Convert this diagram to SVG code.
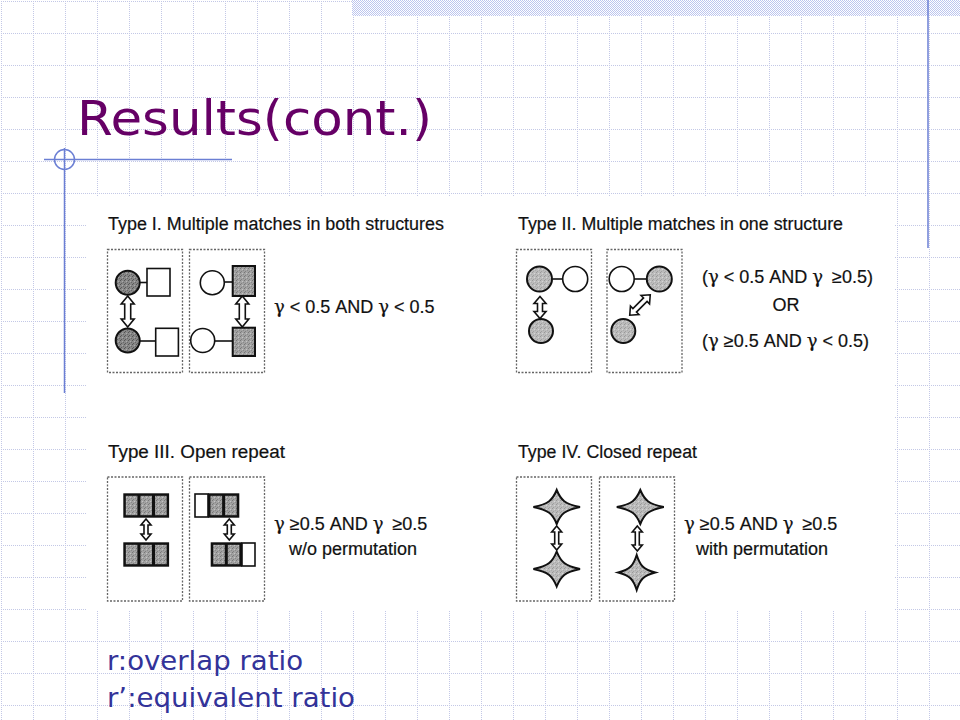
<svg xmlns="http://www.w3.org/2000/svg" width="960" height="720" viewBox="0 0 960 720">
<defs>
<pattern id="grid" width="32" height="32" patternUnits="userSpaceOnUse" x="1" y="1">
<path d="M0.5,0V32M0,0.5H32" stroke="#c3c8e6" stroke-width="1" stroke-dasharray="1 1" fill="none"/>
</pattern>
<pattern id="band" width="2" height="2" patternUnits="userSpaceOnUse">
<rect width="2" height="2" fill="#ffffff"/>
<rect width="1" height="1" fill="#bcc5ee"/>
<rect x="1" y="1" width="1" height="1" fill="#bcc5ee"/>
</pattern>
<pattern id="stipDark" width="4" height="4" patternUnits="userSpaceOnUse">
<rect width="4" height="4" fill="#888"/>
<rect x="0" y="0" width="1" height="1" fill="#555"/>
<rect x="2" y="1" width="1" height="1" fill="#aaa"/>
<rect x="1" y="3" width="1" height="1" fill="#5a5a5a"/>
<rect x="3" y="2" width="1" height="1" fill="#666"/>
</pattern>
<pattern id="stipMid" width="4" height="4" patternUnits="userSpaceOnUse">
<rect width="4" height="4" fill="#a2a2a2"/>
<rect x="0" y="0" width="1" height="1" fill="#777"/>
<rect x="2" y="1" width="1" height="1" fill="#c4c4c4"/>
<rect x="1" y="3" width="1" height="1" fill="#808080"/>
<rect x="3" y="2" width="1" height="1" fill="#888"/>
</pattern>
<pattern id="stipLight" width="4" height="4" patternUnits="userSpaceOnUse">
<rect width="4" height="4" fill="#bcbcbc"/>
<rect x="0" y="0" width="1" height="1" fill="#999"/>
<rect x="2" y="1" width="1" height="1" fill="#d6d6d6"/>
<rect x="1" y="3" width="1" height="1" fill="#a0a0a0"/>
<rect x="3" y="2" width="1" height="1" fill="#aaa"/>
</pattern>
<style>
.deco{stroke:#6b7fd4;stroke-width:1.5;fill:none}
.panel{fill:none;stroke:#666;stroke-width:1.3;stroke-dasharray:2 1.5}
.ft{font-family:"Liberation Sans",Arial,sans-serif;font-size:18px;fill:#111;stroke:#111;stroke-width:0.2}
.g{font-family:"DejaVu Serif","Liberation Serif",serif;font-size:18px}
.edge{stroke:#111;stroke-width:1.6;fill:none}
.arr{fill:#fff;stroke:#111;stroke-width:1.6;stroke-linejoin:miter}
.wshape{fill:#fff;stroke:#111;stroke-width:1.6}
.dark{fill:url(#stipDark);stroke:#111;stroke-width:2}
.mid{fill:url(#stipMid);stroke:#111;stroke-width:2}
.light{fill:url(#stipLight);stroke:#111;stroke-width:2}
.cell{fill:url(#stipMid)}
.star{fill:url(#stipLight);stroke:#111;stroke-width:2;stroke-linejoin:miter}
</style>
</defs>
<rect width="960" height="720" fill="#ffffff"/>
<rect width="960" height="720" fill="url(#grid)"/>
<rect x="352" y="0" width="608" height="16" fill="url(#band)"/>
<g id="decoration">
<line class="deco" x1="928" y1="0" x2="928" y2="248"/>
<line class="deco" x1="44" y1="159.5" x2="232" y2="159.5"/>
<line class="deco" x1="64.5" y1="148" x2="64.5" y2="393"/>
<circle class="deco" cx="64.5" cy="159.5" r="10"/>
</g>
<text id="title" x="77" y="135" font-family="'DejaVu Sans',Verdana,sans-serif" font-size="48" fill="#660066" textLength="355" lengthAdjust="spacingAndGlyphs">Results(cont.)</text>
<rect x="87" y="196" width="808" height="414" fill="#ffffff"/>

<g id="captions">
<text class="ft" x="108" y="230" textLength="336" lengthAdjust="spacingAndGlyphs">Type I. Multiple matches in both structures</text>
<text class="ft" x="518" y="230" textLength="325" lengthAdjust="spacingAndGlyphs">Type II. Multiple matches in one structure</text>
<text class="ft" x="108" y="458" textLength="177" lengthAdjust="spacingAndGlyphs">Type III. Open repeat</text>
<text class="ft" x="518" y="458" textLength="179" lengthAdjust="spacingAndGlyphs">Type IV. Closed repeat</text>
</g>

<g id="conditions">
<text class="ft" x="274" y="313"><tspan class="g">γ</tspan> &lt; 0.5 AND <tspan class="g">γ</tspan> &lt; 0.5</text>
<text class="ft" x="702" y="283">(<tspan class="g">γ</tspan> &lt; 0.5 AND <tspan class="g">γ</tspan> <tspan dx="4">≥0.5)</tspan></text>
<text class="ft" x="786" y="311" text-anchor="middle">OR</text>
<text class="ft" x="702" y="347">(<tspan class="g">γ</tspan> ≥0.5 AND <tspan class="g">γ</tspan> &lt; 0.5)</text>
<text class="ft" x="274" y="530"><tspan class="g">γ</tspan> ≥0.5 AND <tspan class="g">γ</tspan> <tspan dx="4">≥0.5</tspan></text>
<text class="ft" x="289" y="555">w/o permutation</text>
<text class="ft" x="684" y="530"><tspan class="g">γ</tspan> ≥0.5 AND <tspan class="g">γ</tspan> <tspan dx="4">≥0.5</tspan></text>
<text class="ft" x="696" y="555">with permutation</text>
</g>

<g id="panels">
<rect class="panel" x="107.5" y="249.5" width="75" height="123"/>
<rect class="panel" x="189.5" y="249.5" width="75" height="123"/>
<rect class="panel" x="516.5" y="249.5" width="75" height="123"/>
<rect class="panel" x="607" y="249.5" width="75" height="123"/>
<rect class="panel" x="107.5" y="477" width="75" height="124"/>
<rect class="panel" x="189.5" y="477" width="75" height="124"/>
<rect class="panel" x="516.5" y="477" width="75" height="124"/>
<rect class="panel" x="599.5" y="477" width="75" height="124"/>
</g>

<g id="connectors">
<line class="edge" x1="139.7" y1="282.5" x2="147" y2="282.5"/>
<line class="edge" x1="139.7" y1="341" x2="155.7" y2="341"/>
<line class="edge" x1="224.3" y1="282" x2="232.7" y2="282"/>
<line class="edge" x1="214.7" y1="341" x2="232.7" y2="341"/>
<line class="edge" x1="552.5" y1="279" x2="562.7" y2="279"/>
<line class="edge" x1="634.2" y1="279" x2="646.8" y2="279"/>
<path class="arr" d="M127.7,296 L134.2,304 L130.7,304 L130.7,319 L134.2,319 L127.7,327 L121.2,319 L124.7,319 L124.7,304 L121.2,304 Z"/>
<path class="arr" d="M242.3,296 L248.8,304 L245.3,304 L245.3,319 L248.8,319 L242.3,327 L235.8,319 L239.3,319 L239.3,304 L235.8,304 Z"/>
<path class="arr" d="M540,296.5 L546,303.5 L542.5,303.5 L542.5,311.5 L546,311.5 L540,318.5 L534,311.5 L537.5,311.5 L537.5,303.5 L534,303.5 Z"/>
<path class="arr" transform="translate(640,305) rotate(45)" d="M0,-14.5 L6,-7.5 L2.5,-7.5 L2.5,7.5 L6,7.5 L0,14.5 L-6,7.5 L-2.5,7.5 L-2.5,-7.5 L-6,-7.5 Z"/>
<path class="arr" d="M146,519 L151,525 L148,525 L148,534 L151,534 L146,540 L141,534 L144,534 L144,525 L141,525 Z"/>
<path class="arr" d="M229.3,519 L234.3,525 L231.3,525 L231.3,534 L234.3,534 L229.3,540 L224.3,534 L227.3,534 L227.3,525 L224.3,525 Z"/>
<path class="arr" d="M556.7,526 L561.7,532 L558.7,532 L558.7,544 L561.7,544 L556.7,550 L551.7,544 L554.7,544 L554.7,532 L551.7,532 Z"/>
<path class="arr" d="M637.3,526 L642.3,532 L639.3,532 L639.3,545 L642.3,545 L637.3,551 L632.3,545 L635.3,545 L635.3,532 L632.3,532 Z"/>
</g>

<g id="type1-left">
<circle class="dark" cx="127.7" cy="282.7" r="12"/>
<rect class="wshape" x="147" y="268.5" width="23" height="27.5"/>
<circle class="dark" cx="127.7" cy="340.5" r="12"/>
<rect class="wshape" x="155.7" y="328.3" width="22.7" height="27.7"/>
</g>
<g id="type1-right">
<circle class="wshape" cx="212.3" cy="282.7" r="12"/>
<rect class="mid" x="232.7" y="266" width="22.3" height="30"/>
<circle class="wshape" cx="202.7" cy="340.5" r="12"/>
<rect class="mid" x="232.7" y="327.7" width="22.3" height="28.3"/>
</g>
<g id="type2-left">
<circle class="light" cx="539.5" cy="279" r="12.5"/>
<circle class="wshape" cx="575.2" cy="279" r="12.5"/>
<circle class="light" cx="541" cy="331" r="12"/>
</g>
<g id="type2-right">
<circle class="wshape" cx="621.7" cy="279" r="12.5"/>
<circle class="light" cx="659.3" cy="279" r="12.5"/>
<circle class="light" cx="623.3" cy="331" r="12"/>
</g>
<g id="type3-left">
<rect x="123.3" y="493.3" width="45.8" height="24.4" fill="#111"/>
<rect class="cell" x="125.8" y="495.8" width="11.6" height="19.4"/>
<rect class="cell" x="140.4" y="495.8" width="11.6" height="19.4"/>
<rect class="cell" x="155" y="495.8" width="11.6" height="19.4"/>
<rect x="123.3" y="542.3" width="45.8" height="24.4" fill="#111"/>
<rect class="cell" x="125.8" y="544.8" width="11.6" height="19.4"/>
<rect class="cell" x="140.4" y="544.8" width="11.6" height="19.4"/>
<rect class="cell" x="155" y="544.8" width="11.6" height="19.4"/>
</g>
<g id="type3-right">
<rect class="wshape" x="195" y="494" width="13" height="23"/>
<rect x="208" y="493.3" width="31.3" height="24.4" fill="#111"/>
<rect class="cell" x="210.5" y="495.8" width="11.6" height="19.4"/>
<rect class="cell" x="225.1" y="495.8" width="11.6" height="19.4"/>
<rect x="210.7" y="542.3" width="31.3" height="24.4" fill="#111"/>
<rect class="cell" x="213.2" y="544.8" width="11.6" height="19.4"/>
<rect class="cell" x="227.8" y="544.8" width="11.6" height="19.4"/>
<rect class="wshape" x="242" y="543" width="13" height="23"/>
</g>
<g id="type4-left">
<path class="star" d="M533.4,507 C548.54,503.94 552.51,500.2 556.7,490 C560.89,500.2 564.86,503.94 580,507 C564.86,510.06 560.89,513.8 556.7,524 C552.51,513.8 548.54,510.06 533.4,507 Z"/>
<path class="star" d="M533.4,569 C548.54,565.85 552.51,562 556.7,551.5 C560.89,562 564.86,565.85 580,569 C564.86,572.15 560.89,576 556.7,586.5 C552.51,576 548.54,572.15 533.4,569 Z"/>
</g>
<g id="type4-right">
<path class="star" d="M616.8,507 C632.07,503.94 636.07,500.2 640.3,490 C644.53,500.2 648.53,503.94 663.8,507 C648.53,510.06 644.53,513.8 640.3,524 C636.07,513.8 632.07,510.06 616.8,507 Z"/>
<path class="star" d="M618.2,572.5 C630.22,569.35 633.37,565.5 636.7,555 C640.03,565.5 643.18,569.35 655.2,572.5 C643.18,575.65 640.03,579.5 636.7,590 C633.37,579.5 630.22,575.65 618.2,572.5 Z"/>
</g>

<g id="notes" font-family="'DejaVu Sans',Verdana,sans-serif" font-size="27" fill="#333399">
<text x="107" y="670" textLength="196" lengthAdjust="spacingAndGlyphs">r:overlap ratio</text>
<text x="107" y="707" textLength="248" lengthAdjust="spacingAndGlyphs">r’:equivalent ratio</text>
</g>
</svg>
